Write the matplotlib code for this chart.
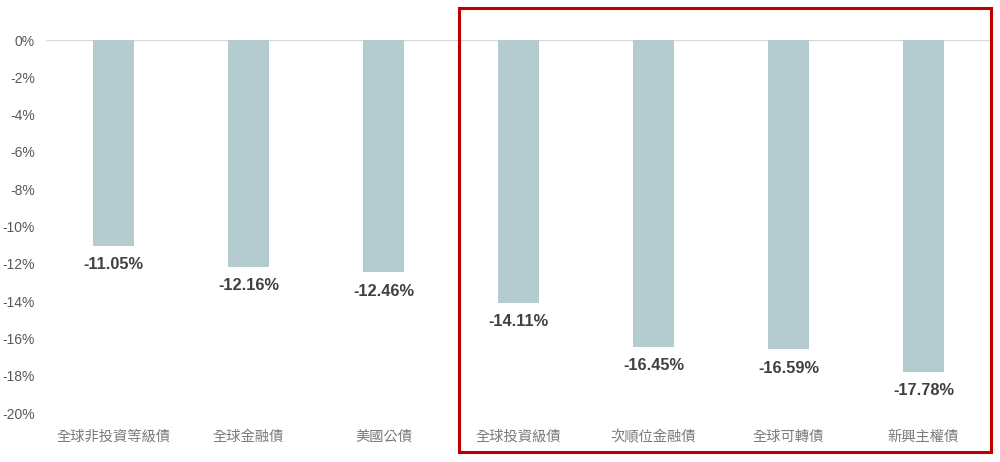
import matplotlib.pyplot as plt
from matplotlib.patches import Rectangle

plt.rcParams['font.family'] = ['Noto Sans CJK TC', 'DejaVu Sans']

categories = ['全球非投資等級債', '全球金融債', '美國公債', '全球投資級債',
              '次順位金融債', '全球可轉債', '新興主權債']
values = [-11.05, -12.16, -12.46, -14.11, -16.45, -16.59, -17.78]
yticks = [0, -2, -4, -6, -8, -10, -12, -14, -16, -18, -20]

fig = plt.figure(figsize=(10, 4.62), dpi=100)
ax = fig.add_axes([0.046, 0.106, 0.945, 0.8074])

x = range(len(categories))
ax.bar(x, values, width=0.31, color='#b4cbcf', zorder=2)
for i, v in zip(x, values):
    ax.text(i, v - 0.6, f'{v:.2f}%', ha='center', va='top',
            fontsize=11.8, fontweight='bold', color='#404040',
            family=['Liberation Sans', 'DejaVu Sans'])

ax.set_xlim(-0.5, len(categories) - 0.5)
ax.set_ylim(-20, 0)
ax.set_yticks(yticks)
ax.set_yticklabels([f'{t}%' for t in yticks], family=['Liberation Sans', 'DejaVu Sans'])
ax.set_xticks(list(x))
ax.set_xticklabels(categories)
ax.tick_params(axis='both', length=0, labelsize=10)
ax.tick_params(axis='y', pad=8, colors='#595959')
ax.tick_params(axis='x', pad=12, colors='#7a7a7a', labelsize=10.3)
for s in ax.spines.values():
    s.set_visible(False)
ax.axhline(0, color='#d9d9d9', lw=1, zorder=1)

# highlight box around the last four categories
fig.patches.append(Rectangle((0.459, 1 - 452 / 462), 0.532, 444 / 462,
                             transform=fig.transFigure, fill=False,
                             edgecolor='#c00000', lw=2.2))

fig.savefig('out.png', dpi=100)
